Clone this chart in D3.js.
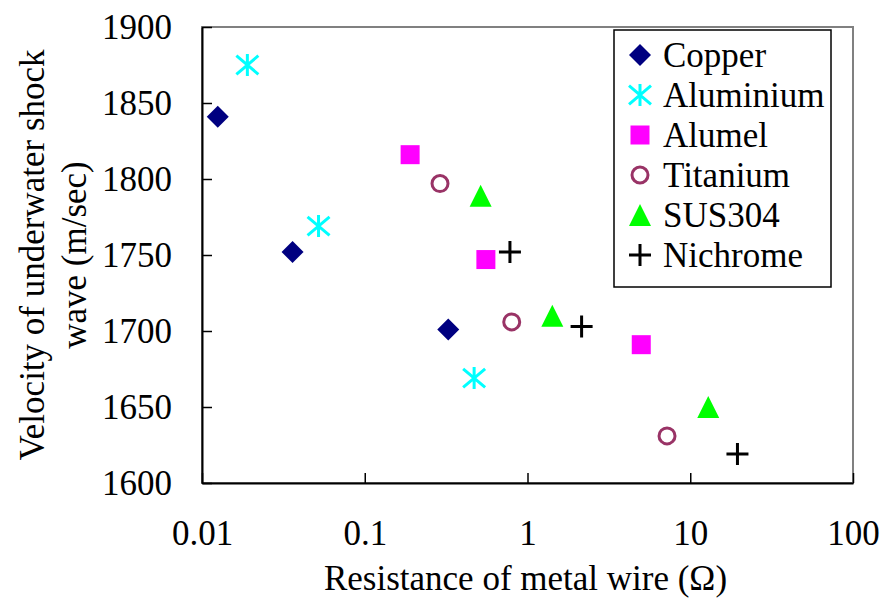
<!DOCTYPE html>
<html>
<head>
<meta charset="utf-8">
<script src="https://cdn.jsdelivr.net/npm/d3@7"></script>
<style>
  body { margin: 0; background: #fff; }
</style>
</head>
<body>
<div id="chart"></div>
<script>
// series data: [resistance (ohm), velocity (m/sec)]
const seriesNames = ["Copper", "Aluminium", "Alumel", "Titanium", "SUS304", "Nichrome"];
const copper = [[0.0125, 1841], [0.036, 1752], [0.326, 1701]];
const aluminium = [[0.019, 1875], [0.052, 1769], [0.47, 1669]];
const alumel = [[0.19, 1816], [0.555, 1747], [5.0, 1691]];
const titanium = [[0.29, 1797], [0.80, 1706], [7.2, 1631]];
const sus304 = [[0.515, 1789], [1.42, 1710], [12.9, 1650]];
const nichrome = [[0.78, 1752], [2.15, 1703], [19.5, 1619]];
const xTicks = [0.01, 0.1, 1, 10, 100];
const yTicks = [1600, 1650, 1700, 1750, 1800, 1850, 1900];

const seriesData = [copper, aluminium, alumel, titanium, sus304, nichrome];

// marker styles
const styles = {
  Copper: { shape: "diamond", color: "#000080" },
  Aluminium: { shape: "star", color: "#00FFFF" },
  Alumel: { shape: "square", color: "#FF00FF" },
  Titanium: { shape: "circle", color: "#993366" },
  SUS304: { shape: "triangle", color: "#00FF00" },
  Nichrome: { shape: "plus", color: "#000000" }
};

const FONT = "Tinos, 'Noto Serif', 'Nimbus Roman', 'FreeSerif', 'Liberation Serif', 'DejaVu Serif', serif";

const width = 881, height = 609;
const margin = { left: 202, right: 28, top: 27, bottom: 126 };
const innerW = width - margin.left - margin.right;
const innerH = height - margin.top - margin.bottom;

const svg = d3.select("#chart").append("svg").attr("width", width).attr("height", height)
  .style("font-family", FONT);
const ChartArea = svg.append("g").attr("transform", `translate(${margin.left},${margin.top})`);

const x = d3.scaleLog().domain([0.01, 100]).range([0, innerW]);
const y = d3.scaleLinear().domain([1600, 1900]).range([innerH, 0]);

// plot area border (gray)
ChartArea.append("rect")
  .attr("width", innerW).attr("height", innerH)
  .attr("fill", "none").attr("stroke", "#808080").attr("stroke-width", 2);

// axes with inside ticks
const AxisX = ChartArea.append("g").attr("transform", `translate(0,${innerH})`)
  .call(d3.axisBottom(x).tickValues(xTicks).tickFormat(d3.format("~g")).tickSize(-10).tickSizeOuter(0).tickPadding(37));
const AxisY = ChartArea.append("g")
  .call(d3.axisLeft(y).tickValues(yTicks).tickFormat(d3.format("d")).tickSize(-10).tickSizeOuter(0).tickPadding(30));

[AxisX, AxisY].forEach(a => {
  a.attr("font-family", null).attr("font-size", null);
  a.select(".domain").attr("stroke", "#000").attr("stroke-width", 2);
  a.selectAll(".tick line").attr("stroke", "#000").attr("stroke-width", 1.5);
  a.selectAll(".tick text").style("font-size", "35px").style("font-family", FONT);
});

// marker drawing
function marker(g, shape, color) {
  const s = 11;
  if (shape === "diamond") {
    g.append("path").attr("d", `M0,${-s}L${s},0L0,${s}L${-s},0Z`).attr("fill", color);
  } else if (shape === "square") {
    g.append("rect").attr("x", -9.5).attr("y", -9.5).attr("width", 19).attr("height", 19).attr("fill", color);
  } else if (shape === "triangle") {
    g.append("path").attr("d", `M0,${-s}L${s},${s}L${-s},${s}Z`).attr("fill", color);
  } else if (shape === "circle") {
    g.append("circle").attr("r", 8).attr("fill", "none").attr("stroke", color).attr("stroke-width", 3);
  } else if (shape === "plus") {
    g.append("path").attr("d", `M${-s},0H${s}M0,${-s}V${s}`).attr("stroke", color).attr("stroke-width", 3);
  } else if (shape === "star") {
    const h = s * 0.85;
    g.append("path").attr("d", `M0,${-s}V${s}M${-s},${-h}L${s},${h}M${-s},${h}L${s},${-h}`)
      .attr("stroke", color).attr("stroke-width", 3);
  }
}

// points
seriesNames.forEach((name, i) => {
  const st = styles[name];
  ChartArea.selectAll(`.pt-${name}`)
    .data(seriesData[i])
    .join("g")
    .attr("class", `pt-${name}`)
    .attr("transform", d => `translate(${x(d[0])},${y(d[1])})`)
    .each(function () { marker(d3.select(this), st.shape, st.color); });
});

// legend
const legend = svg.append("g").attr("transform", "translate(614,30)");
legend.append("rect").attr("width", 217).attr("height", 257)
  .attr("fill", "#fff").attr("stroke", "#000").attr("stroke-width", 1.5);
const rows = legend.selectAll(".legend")
  .data(seriesNames)
  .join("g")
  .attr("class", "legend")
  .attr("transform", (d, i) => `translate(26,${25 + i * 40})`);
rows.each(function (d) { marker(d3.select(this), styles[d].shape, styles[d].color); });
rows.append("text").attr("x", 23).attr("dy", "0.35em")
  .style("font-size", "35px").style("font-family", FONT).text(d => d);

// axis titles
svg.append("text")
  .attr("x", margin.left + innerW / 2 - 2).attr("y", 578).attr("dy", "0.35em")
  .attr("text-anchor", "middle").style("font-size", "35px").style("font-family", FONT)
  .text("Resistance of metal wire (\u03A9)");

const yTitle = svg.append("text")
  .attr("transform", `translate(0,${margin.top + innerH / 2}) rotate(-90)`)
  .attr("text-anchor", "middle").style("font-size", "35px").style("font-family", FONT);
yTitle.append("tspan").attr("x", 0).attr("y", 44).text("Velocity of underwater shock");
yTitle.append("tspan").attr("x", 0).attr("y", 86).text("wave (m/sec)");
</script>
</body>
</html>
